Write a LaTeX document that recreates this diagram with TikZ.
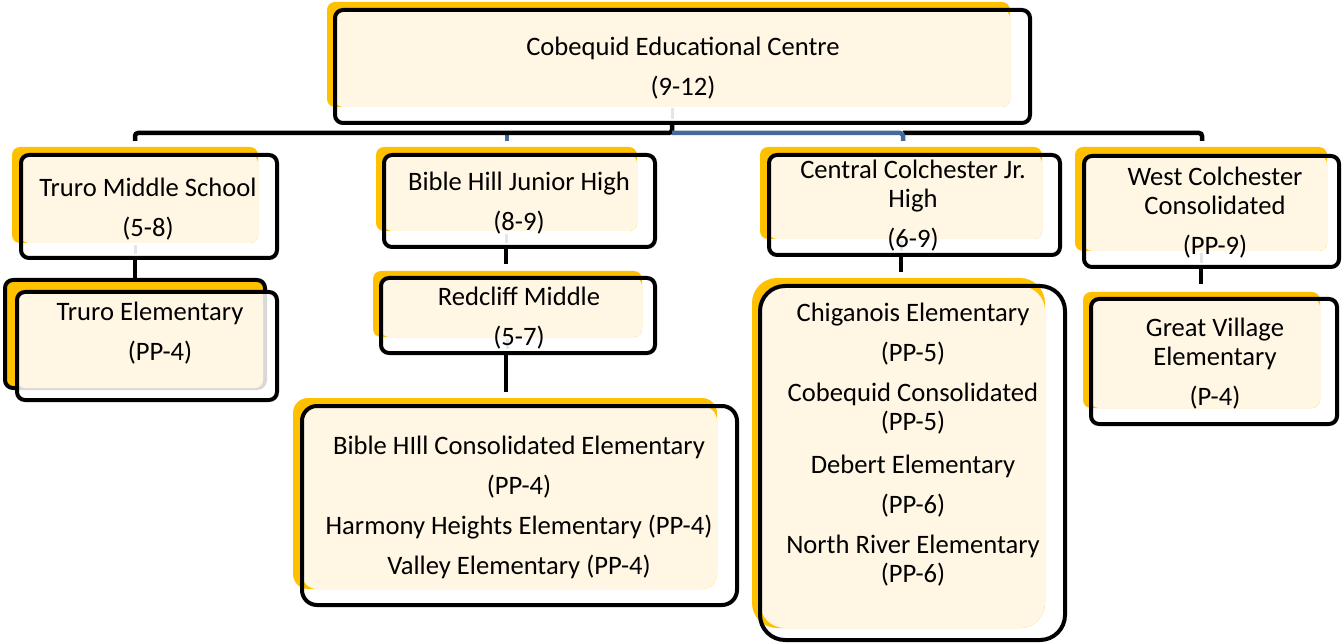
\documentclass[tikz,border=0pt]{standalone}
\usepackage{fontspec}
\setmainfont{Carlito}
\definecolor{ylw}{HTML}{FFC000}
\definecolor{crm}{HTML}{FFF6E4}
\definecolor{blu}{HTML}{44699C}
\tikzset{
  kbox/.style={draw=black, line width=4pt, inner sep=0pt, outer sep=0pt},
  txt/.style={font=\fontsize{26.6}{29}\selectfont, align=center, inner sep=0pt, text=black, yshift=-1.5pt},
  conn/.style={line width=4.5pt, draw=black},
  bconn/.style={line width=4.5pt, draw=blu},
  ghost/.style={line width=3pt, draw=black!10},
}
% name, yellow l,t,r,b, black l,t,r,b
\newcommand\smbox[9]{%
  \fill[ylw, rounded corners=\rad] (#2,#3) rectangle (#4,#5);
  \fill[crm, rounded corners=\rad] (#6,#7) rectangle (#4,#5);
  \node[kbox, rounded corners=\rad, minimum width=#8pt-#6pt, minimum height=#9pt-#7pt]
    (#1) at ({(#6+#8)/2},{(#7+#9)/2}) {};
}
\begin{document}
\begin{tikzpicture}[x=1pt,y=-1pt]
\useasboundingbox[fill=white] (0,0) rectangle (1344,644);

\def\rad{8pt}
% top
\smbox{top}{327}{2}{1010}{107}{335}{10}{1030}{123}
% level 2
\smbox{tms}{12}{147}{258}{243}{21}{155}{277}{258}
\smbox{bhj}{376}{147}{637}{231}{384}{155}{655}{247}
\smbox{cc}{760}{147}{1042}{239}{769}{155}{1060}{255}
\smbox{wc}{1075}{147}{1327}{251}{1084}{156}{1339}{267}
% level 3
\smbox{rc}{373}{271}{642}{337}{381}{278}{655}{353}
\smbox{gv}{1083}{292}{1320}{408}{1091}{299}{1337}{424}
\def\rad{15pt}
\smbox{bhc}{293}{398}{717}{589}{302}{406}{737}{605}
\def\rad{25pt}
\smbox{chg}{752}{278}{1045}{628}{760}{286}{1065}{640}

% Truro Elementary (double box)
\node[kbox, fill=ylw, rounded corners=8pt, minimum width=260pt, minimum height=108pt] (teB) at (135,334) {};
\fill[white, opacity=0.85, rounded corners=8pt] (17,292) rectangle (277,400);
\fill[crm, rounded corners=8pt] (17,292) rectangle (263,388);
\node[kbox, rounded corners=8pt, minimum width=260pt, minimum height=108pt] (te) at (147,346) {};

% faint connector traces inside boxes
\draw[ghost] (672,108) -- (672,119);
\draw[ghost] (135,245) -- (135,254);
\draw[ghost] (506,234) -- (506,243);
\draw[ghost] (507,339) -- (507,349);
\draw[ghost] (901,241) -- (901,251);
\draw[ghost] (1201,253) -- (1201,263);

% connectors
\coordinate (hubM) at (672,133);
\coordinate (hubB) at (903,133);
\coordinate (tickL) at (135,141);
\coordinate (tickR) at (1202,141);
\coordinate (tickB) at (903,141);
\coordinate (bt1) at (507,135);
\coordinate (bt2) at (507,141);
\draw[bconn] (bt1) -- (bt2);
\draw[conn, rounded corners=3pt] (top.south -| hubM) -- (hubM) -| (tickL);
\draw[conn, rounded corners=3pt] (hubB) -| (tickR);
\draw[bconn, rounded corners=3pt] (hubM) -| (tickB);

\coordinate (e1) at (135,279);
\coordinate (e2) at (506,264);
\coordinate (e3) at (506,392);
\coordinate (e4) at (901,272);
\coordinate (e5) at (1201,284);
\draw[conn] (tms.south -| e1) -- (e1);
\draw[conn] (bhj.south -| e2) -- (e2);
\draw[conn] (rc.south -| e3) -- (e3);
\draw[conn] (cc.south -| e4) -- (e4);
\draw[conn] (wc.south -| e5) -- (e5);

% texts
\node[txt] (topT) at (683,66.5) {Cobequid Educational Centre\\[11pt](9-12)};
\node[txt] (tmsT) at (148,207.5) {Truro Middle School\\[11pt](5-8)};
\node[txt] (teT) at (150,332) {Truro Elementary\\[11pt]\hspace*{20pt}(PP-4)};
\node[txt] (bhjT) at (519,201.5) {Bible Hill Junior High\\[11pt](8-9)};
\node[txt] (rcT) at (519,316.5) {Redcliff Middle\\[11pt](5-7)};
\node[txt] (bhcT) at (519,505.5) {Bible HIll Consolidated Elementary\\[11pt](PP-4)\\[11pt]Harmony Heights Elementary (PP-4)\\[11pt]Valley Elementary (PP-4)};
\node[txt] (ccT) at (913,204.5) {Central Colchester Jr.\\High\\[11pt](6-9)};
\node[txt] (wcT) at (1215,211) {West Colchester\\Consolidated\\[11pt](PP-9)};
\node[txt] (gvT) at (1215,362) {Great Village\\Elementary\\[11pt](P-4)};
\node[txt] (chgT) at (913,443.5) {Chiganois Elementary\\[11pt](PP-5)\\[11pt]Cobequid Consolidated\\(PP-5)\\[14pt]Debert Elementary\\[11pt](PP-6)\\[11pt]North River Elementary\\(PP-6)};
\end{tikzpicture}
\end{document}
